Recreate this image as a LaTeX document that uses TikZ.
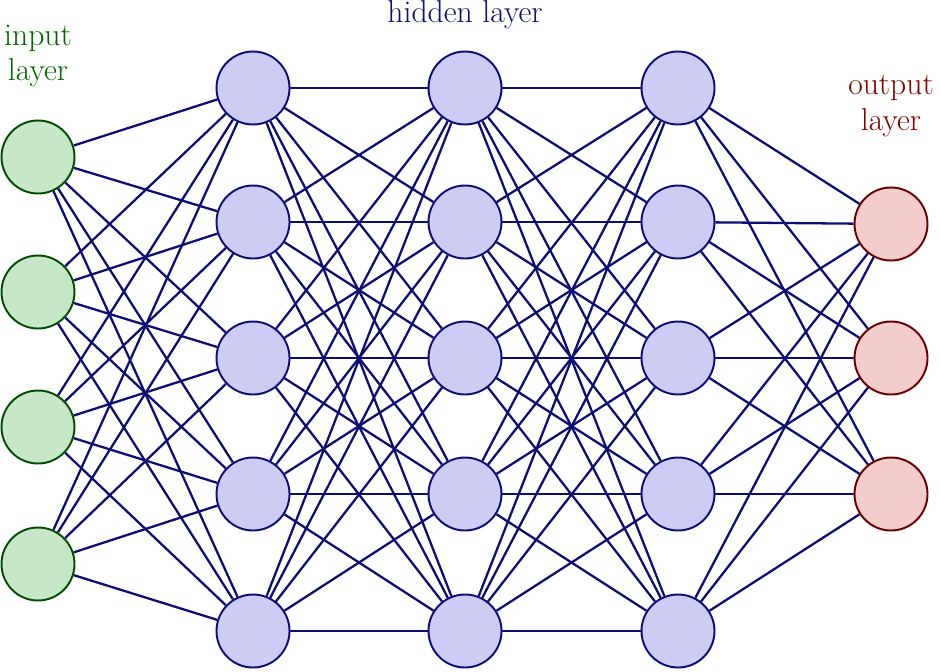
\documentclass[tikz,border=0pt]{standalone}
\usepackage{tikz}
\usetikzlibrary{backgrounds}
\definecolor{nnnavy}{rgb}{0.05, 0.05, 0.45}
\definecolor{nngreen}{rgb}{0.78, 0.91, 0.78}
\definecolor{nnblue}{rgb}{0.80, 0.80, 0.96}
\definecolor{nnred}{rgb}{0.96, 0.80, 0.80}
\tikzset{neuron/.style={draw, circle, line width=1.1pt, minimum size=1.46cm, inner sep=0pt}}
\tikzset{conn/.style={line width=1.3pt, color=nnnavy}}
\tikzset{lbl/.style={font=\fontsize{18}{20}\selectfont, align=center}}

\begin{document}
\begin{tikzpicture}
        \useasboundingbox (0,0) rectangle (18.8,-13.42);

        % input layer
        \foreach \i/\y in {1/3.14, 2/5.84, 3/8.54, 4/11.28}
            \node[neuron, fill=nngreen, draw=green!30!black] (i\i) at (0.76,-\y) {};
        % hidden layers
        \foreach \l/\x in {1/5.06, 2/9.3, 3/13.56}
            \foreach \j/\y in {1/1.76, 2/4.44, 3/7.16, 4/9.88, 5/12.62}
                \node[neuron, fill=nnblue, draw=nnnavy] (h\l\j) at (\x,-\y) {};
        % output layer
        \foreach \k/\y in {1/4.48, 2/7.16, 3/9.88}
            \node[neuron, fill=nnred, draw=red!40!black] (o\k) at (17.82,-\y) {};

        \begin{scope}[on background layer]
        \foreach \i in {1,...,4}
            \foreach \j in {1,...,5}
                \draw[conn] (i\i) -- (h1\j);
        \foreach \j in {1,...,5}
            \foreach \m in {1,...,5}
            {
                \draw[conn] (h1\j) -- (h2\m);
                \draw[conn] (h2\j) -- (h3\m);
            }
        \foreach \j in {1,...,5}
            \foreach \k in {1,...,3}
                \draw[conn] (h3\j) -- (o\k);
        \end{scope}

        \node[lbl, text=green!40!black] (tin) at (0.76,-1.12) {input\\layer};
        \node[lbl, text=nnnavy] (thid) at (9.3,-0.3) {hidden layer};
        \node[lbl, text=red!50!black] (tout) at (17.82,-2.12) {output\\layer};
    \end{tikzpicture}
\end{document}
